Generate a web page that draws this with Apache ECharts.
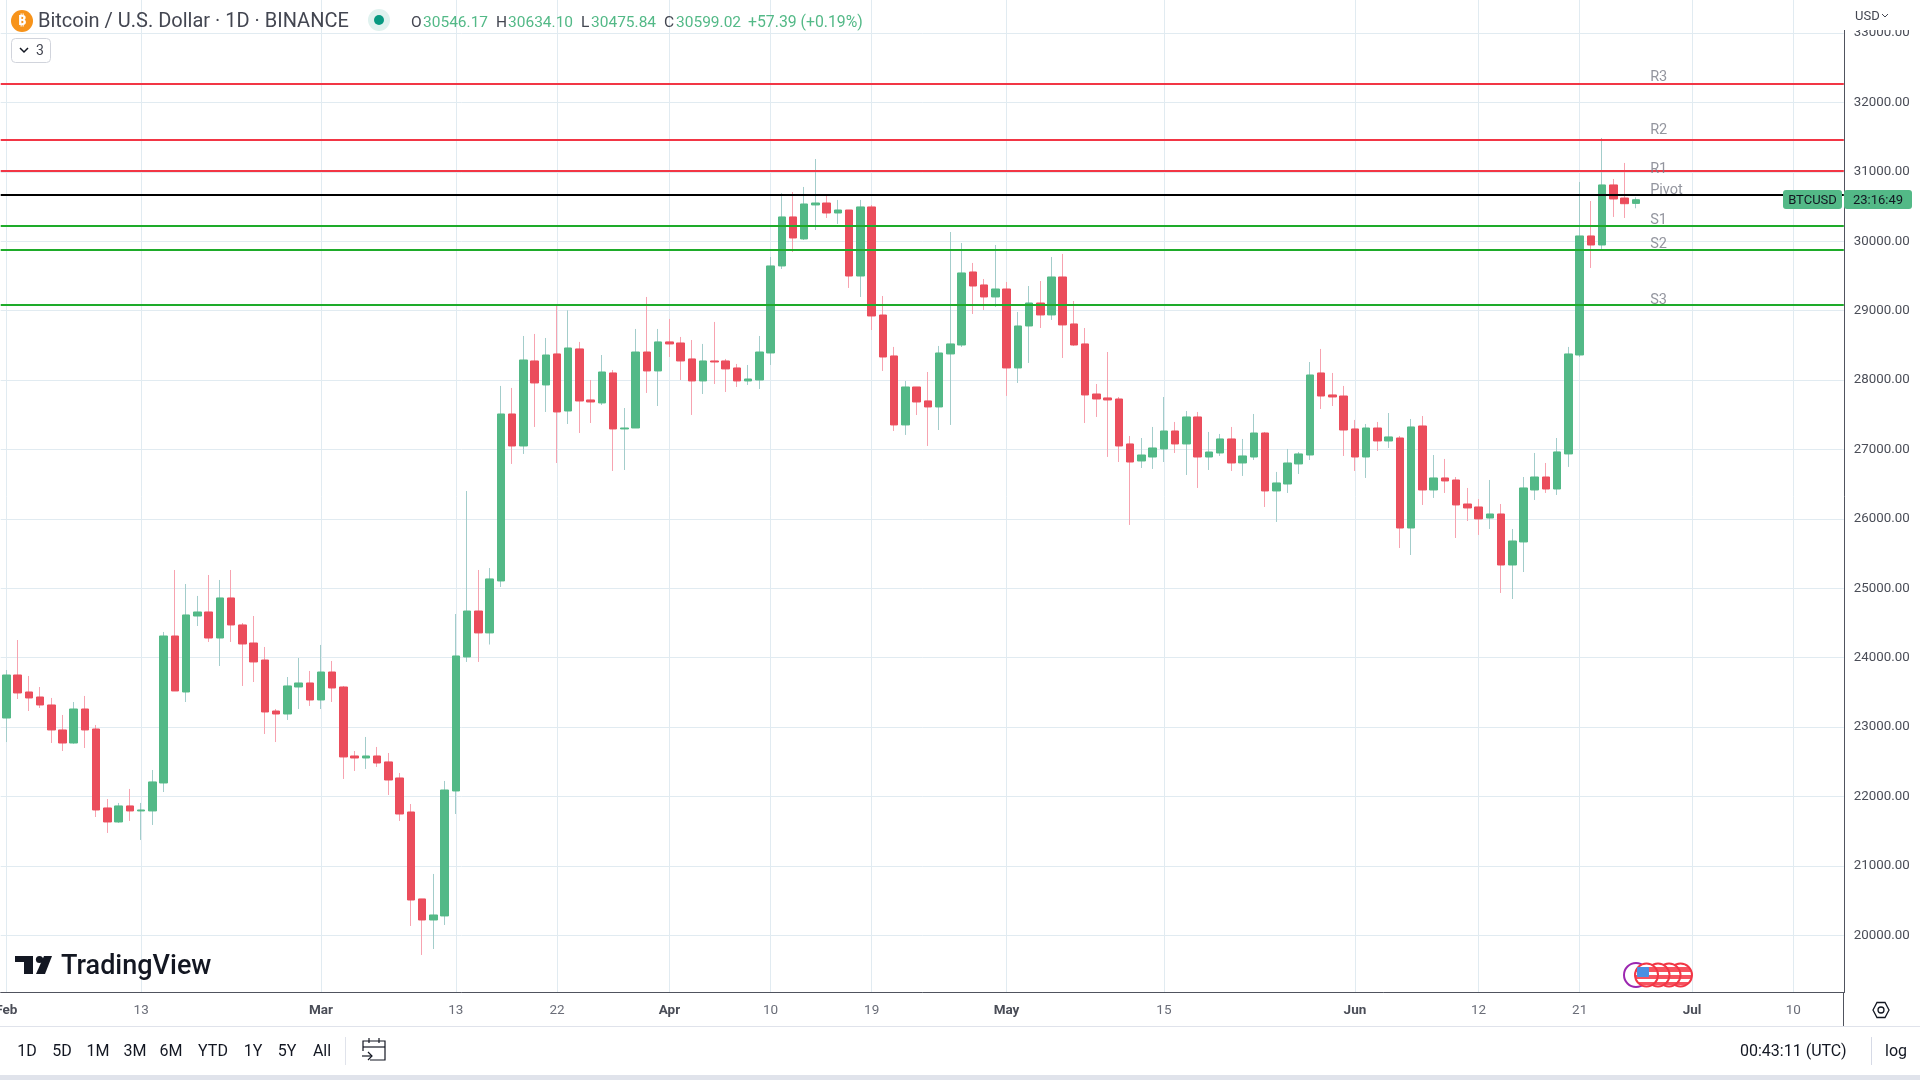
<!DOCTYPE html>
<html>
<head>
<meta charset="utf-8">
<title>BTCUSD</title>
<script src="https://cdn.jsdelivr.net/npm/echarts@6/dist/echarts.min.js"></script>
<style>
html, body { margin: 0; padding: 0; background: #fff; }
#chart { width: 1920px; height: 1080px; }
</style>
</head>
<body>
<div id="chart"></div>
<script>
// daily candles, index 0 is 1 Feb 2023
var opens = [23131,23751,23506,23434,23319,22959,22771,23261,22973,21835,21633,21864,21792,21792,22195,24313,23506,24601,24659,24284,24861,24472,24212,23967,23232,23189,23578,23636,23391,23794,23578,22584,22555,22584,22498,22267,21777,20524,20221,20279,22080,24011,24673,24357,25106,27512,27051,28276,27930,28377,27555,28449,27714,27671,28103,27296,27310,28405,28132,28550,28535,28305,27988,28276,28276,28175,27988,28002,28391,29645,30351,30034,30524,30552,30408,30451,29500,30495,28938,28348,27354,27901,27700,27613,28377,28506,29558,29371,29198,29313,28175,28780,29111,28939,29486,28809,28521,27800,27743,27728,27080,26835,26892,27008,27267,27080,27469,26892,26950,27152,26806,26892,27238,26403,26503,26792,26921,28103,27786,27771,27296,26892,27310,27123,27166,25869,27339,26417,26590,26561,26215,26172,26013,26071,25336,25668,26417,26604,26431,26936,28362,30077,29947,30812,30624,30546.17];
var closes = [23751,23492,23420,23319,22959,22771,23261,22959,21806,21633,21864,21792,21806,22210,24313,23521,24616,24659,24284,24861,24472,24198,23939,23218,23189,23593,23636,23391,23794,23564,22570,22555,22584,22483,22238,21748,20509,20221,20293,22094,24025,24673,24357,25135,27512,27051,28290,27959,28362,27541,28463,27699,27685,28117,27296,27310,28405,28132,28550,28521,28276,27988,28276,28261,28161,27988,28016,28405,29645,30351,30048,30538,30552,30408,30451,29500,30495,28924,28333,27354,27901,27685,27613,28391,28521,29544,29356,29198,29313,28175,28780,29111,28939,29486,28795,28506,27786,27728,27714,27051,26820,26921,27022,27267,27080,27469,26892,26964,27152,26806,26907,27238,26403,26518,26806,26936,28074,27771,27757,27281,26892,27310,27123,27181,25869,27325,26417,26590,26547,26201,26158,26000,26071,25336,25682,26446,26604,26431,26965,28377,30077,29947,30812,30610,30542,30599.02];
var lows = [22785,23405,23232,23276,22771,22656,22760,22699,21705,21475,21619,21648,21374,21590,22065,23521,23362,24457,24227,23881,24227,23593,23650,22901,22785,23103,23261,23305,23261,23362,22253,22368,22397,22426,22022,21648,20135,19717,19803,20149,21748,23939,23939,24190,25019,26792,26936,27325,27541,26806,27368,27238,27382,27642,26691,26705,27310,27815,27627,28333,28002,27498,27800,27944,27829,27901,27930,27872,28218,29601,29846,30019,30163,30336,30250,29328,29198,28722,28132,27267,27210,27497,27051,27281,27354,28477,28953,29011,29054,27772,27959,28247,28751,28867,28319,28492,27382,27469,26893,26820,25913,26734,26720,26820,26950,26633,26446,26705,26907,26691,26619,26849,26172,25956,26374,26648,26849,27584,27627,26907,26691,26590,26979,27022,25581,25480,26201,26302,26374,25725,25970,25769,25855,24933,24846,25235,26273,26374,26345,26749,28333,29616,29890,30351,30336,30475.84];
var highs = [23823,24255,23737,23578,23420,23175,23362,23449,23031,21964,21907,22109,21907,22382,24371,25264,25062,24890,25192,25120,25264,24500,24601,24155,23261,23722,23996,23809,24184,23953,23593,22656,22858,22714,22627,22339,21892,20524,20884,22224,24630,26402,25264,25293,27916,27887,28636,28665,28607,29068,29006,28550,28002,28362,28146,27598,28737,29198,28737,28881,28622,28578,28521,28838,28305,28233,28218,28636,29774,30692,30711,30783,31186,30668,30596,30451,30596,30523,29212,28478,27988,27901,28117,28492,30134,29976,29688,29457,29947,29414,28982,29356,29428,29774,29818,29140,28751,27944,28405,27757,27195,27166,27325,27757,27397,27555,27541,27253,27224,27325,27152,27512,27253,26677,27008,26964,28261,28449,28103,27916,27426,27368,27397,27526,27195,27440,27483,26921,26864,26604,26446,26287,26561,26215,25855,26604,26950,26806,27166,28478,30855,30581,31489,30898,31129,30634.10];

// pivot levels
var levelNames = ['R3', 'R2', 'R1', 'Pivot', 'S1', 'S2', 'S3'];
var levelValues = [32267, 31460, 31013, 30668, 30221, 29875, 29083];
var levelColors = ['#f23645', '#f23645', '#f23645', '#000000', '#1eab2a', '#1eab2a', '#1eab2a'];
var levelLabelValues = [32365, 31597, 31043, 30729, 30306, 29958, 29149];

// ticks
var priceTicks = [20000, 21000, 22000, 23000, 24000, 25000, 26000, 27000, 28000, 29000, 30000, 31000, 32000, 33000];
var timeTickDates = ['2023-02-01', '2023-02-13', '2023-03-01', '2023-03-13', '2023-03-22', '2023-04-01', '2023-04-10', '2023-04-19', '2023-05-01', '2023-05-15', '2023-06-01', '2023-06-12', '2023-06-21', '2023-07-01', '2023-07-10'];
var timeTickLabels = ['Feb', '13', 'Mar', '13', '22', 'Apr', '10', '19', 'May', '15', 'Jun', '12', '21', 'Jul', '10'];

// header and toolbar text
var rangeButtons = ['1D', '5D', '1M', '3M', '6M', 'YTD', '1Y', '5Y', 'All'];
var rangeButtonX = [27, 62, 98, 135, 171, 213, 253, 287, 322];

var categories = [];
for (var d = 0; d < 164; d++) {
    categories.push(new Date(Date.UTC(2023, 1, 1 + d)).toISOString().slice(0, 10));
}

var wickData = [];
var bodyData = [];
for (var i = 0; i < opens.length; i++) {
    wickData.push([opens[i], closes[i], lows[i], highs[i]]);
    bodyData.push([opens[i], closes[i], Math.min(opens[i], closes[i]), Math.max(opens[i], closes[i])]);
}

var levelLines = levelValues.map(function (v, i) {
    return { yAxis: v, lineStyle: { color: levelColors[i], width: 2, type: 'solid' } };
});
var levelLabels = levelNames.map(function (n, i) {
    return { name: n, value: [categories[146], levelLabelValues[i]] };
});

function isTimeTick(index, value) {
    return timeTickDates.indexOf(value) >= 0;
}

var UI_FONT = 'Roboto, "Noto Sans", sans-serif';

function txt(x, y, text, fill, size, align, weight) {
    return {
        type: 'text', x: x, y: y, silent: true, z: 100,
        style: { text: text, fill: fill, font: (weight || 'normal') + ' ' + size + 'px ' + UI_FONT, align: align || 'left', verticalAlign: 'middle' }
    };
}
function rect(x, y, w, h, fill, r, z) {
    return { type: 'rect', silent: true, z: z || 95, shape: { x: x, y: y, width: w, height: h, r: r || 0 }, style: { fill: fill } };
}
function line(x1, y1, x2, y2, color, width, z) {
    return { type: 'line', silent: true, z: z || 96, shape: { x1: x1, y1: y1, x2: x2, y2: y2 }, style: { stroke: color, lineWidth: width || 1 } };
}
function flag(cx, z) {
    return {
        type: 'circle', silent: true, z: z, shape: { cx: cx, cy: 975, r: 11.5 },
        style: {
            stroke: '#f23645', lineWidth: 2,
            fill: {
                type: 'linear', x: 0, y: 0, x2: 0, y2: 1,
                colorStops: [
                    { offset: 0, color: '#ffffff' }, { offset: 0.18, color: '#ffffff' },
                    { offset: 0.18, color: '#f7525f' }, { offset: 0.36, color: '#f7525f' },
                    { offset: 0.36, color: '#ffffff' }, { offset: 0.5, color: '#ffffff' },
                    { offset: 0.5, color: '#f7525f' }, { offset: 0.66, color: '#f7525f' },
                    { offset: 0.66, color: '#ffffff' }, { offset: 0.76, color: '#ffffff' },
                    { offset: 0.76, color: '#f7525f' }, { offset: 0.88, color: '#f7525f' },
                    { offset: 0.88, color: '#ffffff' }, { offset: 1, color: '#ffffff' }
                ]
            }
        }
    };
}

var overlay = [
    // header
    { type: 'circle', silent: true, z: 96, shape: { cx: 22, cy: 21, r: 11 }, style: { fill: '#f7931a' } },
    txt(22, 21, '₿', '#ffffff', 15, 'center', 'bold'),
    txt(38, 22, 'Bitcoin / U.S. Dollar · 1D · BINANCE', '#434651', 20),
    { type: 'circle', silent: true, z: 96, shape: { cx: 379, cy: 20, r: 11 }, style: { fill: '#e0f2ef' } },
    { type: 'circle', silent: true, z: 97, shape: { cx: 379, cy: 20, r: 5 }, style: { fill: '#089981' } },
    txt(411, 23, 'O', '#434651', 15.5), txt(423, 23, '30546.17', '#53b987', 15.5),
    txt(496, 23, 'H', '#434651', 15.5), txt(508, 23, '30634.10', '#53b987', 15.5),
    txt(581, 23, 'L', '#434651', 15.5), txt(591, 23, '30475.84', '#53b987', 15.5),
    txt(664, 23, 'C', '#434651', 15.5), txt(676, 23, '30599.02', '#53b987', 15.5),
    txt(748, 23, '+57.39 (+0.19%)', '#53b987', 15.8),
    { type: 'rect', silent: true, z: 96, shape: { x: 11.5, y: 38.5, width: 39, height: 24, r: 4 }, style: { fill: '#fff', stroke: '#d1d4dc', lineWidth: 1 } },
    { type: 'polyline', silent: true, z: 97, shape: { points: [[20, 48], [24, 52], [28, 48]] }, style: { stroke: '#131722', lineWidth: 1.5, fill: 'none' } },
    txt(36, 51, '3', '#434651', 14),

    // price axis corner, covers the top of the 33000 label
    rect(1844, 0, 76, 30, '#ffffff'),
    txt(1855, 17, 'USD', '#434651', 13),
    { type: 'polyline', silent: true, z: 97, shape: { points: [[1882, 14], [1885, 17], [1888, 14]] }, style: { stroke: '#434651', lineWidth: 1, fill: 'none' } },

    // symbol and countdown tags
    rect(1783, 190, 59, 19, '#53b987', 3),
    txt(1812.5, 201, 'BTCUSD', '#131722', 13, 'center'),
    rect(1844, 190, 68, 19, '#53b987', 3),
    txt(1878, 201, '23:16:49', '#131722', 13, 'center'),

    // logo
    { type: 'polygon', silent: true, z: 96, shape: { points: [[15, 956], [33, 956], [33, 974], [24, 974], [24, 962], [15, 962]] }, style: { fill: '#131722' } },
    { type: 'circle', silent: true, z: 96, shape: { cx: 39.5, cy: 959.5, r: 3.6 }, style: { fill: '#131722' } },
    { type: 'polygon', silent: true, z: 96, shape: { points: [[44, 956], [52, 956], [45, 974], [36, 974]] }, style: { fill: '#131722' } },
    txt(61, 967, 'TradingView', '#131722', 27, 'left', '500'),

    // event flags
    { type: 'circle', silent: true, z: 96, shape: { cx: 1636, cy: 975, r: 12 }, style: { fill: '#ffffff', stroke: '#9c27b0', lineWidth: 2 } },
    flag(1680.5, 97), flag(1669, 98), flag(1658, 99), flag(1646.5, 100),
    rect(1637, 967, 12, 10, '#4a90e2', 1, 101),

    // frame of the bottom bars
    line(1843.5, 992, 1843.5, 1026, '#50535e', 1),
    rect(0, 1026, 1920, 1, '#e0e3eb'),
    rect(0, 1075, 1920, 5, '#e0e3eb'),
    line(345.5, 1037, 345.5, 1065, '#e0e3eb', 1),
    line(1871.5, 1037, 1871.5, 1065, '#d6dae6', 1),

    // settings icon
    { type: 'polygon', silent: true, z: 96, shape: { points: [[1873, 1010], [1877, 1002.5], [1885, 1002.5], [1889, 1010], [1885, 1017.5], [1877, 1017.5]] }, style: { fill: 'none', stroke: '#131722', lineWidth: 1.3 } },
    { type: 'circle', silent: true, z: 96, shape: { cx: 1881, cy: 1010, r: 3 }, style: { fill: 'none', stroke: '#131722', lineWidth: 1.3 } },

    // calendar icon
    { type: 'polyline', silent: true, z: 96, shape: { points: [[363, 1051], [363, 1041], [385, 1041], [385, 1060], [370, 1060]] }, style: { fill: 'none', stroke: '#131722', lineWidth: 1.2 } },
    line(363, 1047, 385, 1047, '#131722', 1.2),
    line(369, 1038, 369, 1043, '#131722', 1.2),
    line(379, 1038, 379, 1043, '#131722', 1.2),
    { type: 'polyline', silent: true, z: 96, shape: { points: [[362, 1056], [372, 1056]] }, style: { fill: 'none', stroke: '#131722', lineWidth: 1.2 } },
    { type: 'polyline', silent: true, z: 96, shape: { points: [[368, 1052], [372, 1056], [368, 1060]] }, style: { fill: 'none', stroke: '#131722', lineWidth: 1.2 } },

    txt(1740, 1052, '00:43:11 (UTC)', '#131722', 16),
    txt(1885, 1052, 'log', '#131722', 16)
];
rangeButtons.forEach(function (b, i) {
    overlay.push(txt(rangeButtonX[i], 1052, b, '#131722', 16, 'center'));
});

var myChart = echarts.init(document.getElementById('chart'));
myChart.setOption({
    animation: false,
    backgroundColor: '#ffffff',
    grid: { left: 0.7, right: 76.2, top: 0, bottom: 87.5, outerBoundsMode: 'none' },
    xAxis: {
        type: 'category',
        data: categories,
        axisLine: { show: true, onZero: false, lineStyle: { color: '#50535e', width: 1 } },
        axisTick: { show: false },
        axisLabel: {
            interval: isTimeTick,
            margin: 11,
            color: '#6a6d78',
            fontFamily: 'Roboto',
            fontSize: 13.5,
            formatter: function (value) {
                var t = timeTickLabels[timeTickDates.indexOf(value)];
                return isNaN(Number(t)) ? '{m|' + t + '}' : t;
            },
            rich: { m: { color: '#4a4d57', fontFamily: 'Roboto', fontSize: 13.5, fontWeight: 'bold' } }
        },
        splitLine: {
            show: true,
            alignWithLabel: true,
            interval: isTimeTick,
            lineStyle: { color: '#e1ebf1', width: 1 }
        }
    },
    yAxis: {
        type: 'value',
        position: 'right',
        scale: true,
        min: 19176,
        max: 33477,
        axisLine: { show: true, onZero: false, lineStyle: { color: '#50535e', width: 1 } },
        axisTick: { show: false, customValues: priceTicks },
        axisLabel: {
            customValues: priceTicks,
            margin: 10,
            color: '#4a4d57',
            fontFamily: 'Roboto',
            fontSize: 13.3,
            formatter: function (v) { return v.toFixed(2); }
        },
        splitLine: { show: true, lineStyle: { color: '#e1ebf1', width: 1 } }
    },
    series: [
        {
            name: 'wick',
            type: 'candlestick',
            barWidth: 1,
            z: 2,
            data: wickData,
            itemStyle: { color: '#a3cdcb', color0: '#f7a3b0', borderColor: '#a3cdcb', borderColor0: '#f7a3b0', borderWidth: 1 }
        },
        {
            name: 'BTCUSD',
            type: 'candlestick',
            barWidth: 8,
            z: 3,
            data: bodyData,
            itemStyle: { color: '#53b987', color0: '#eb4d5c', borderColor: '#53b987', borderColor0: '#eb4d5c', borderWidth: 1 },
            markLine: {
                silent: true,
                symbol: 'none',
                z: 6,
                label: { show: false },
                data: levelLines
            }
        },
        {
            name: 'levels',
            type: 'scatter',
            symbolSize: 0,
            z: 7,
            data: levelLabels,
            label: {
                show: true,
                position: 'right',
                distance: 3,
                formatter: '{b}',
                color: '#787b86',
                fontFamily: 'Roboto',
                fontSize: 14.5
            }
        }
    ],
    graphic: overlay
});
</script>
</body>
</html>
